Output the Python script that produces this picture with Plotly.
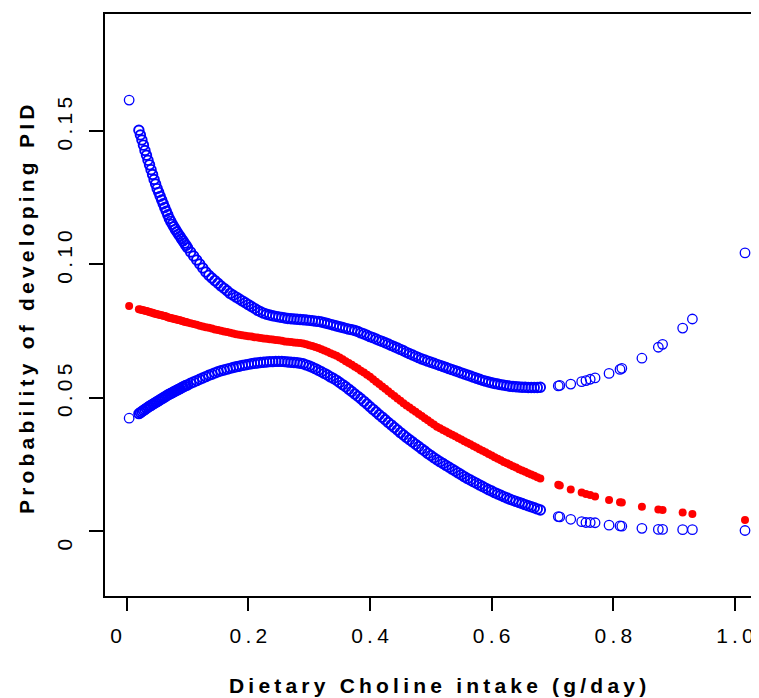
import plotly.graph_objects as go

# Dietary choline intake (g/day)
intake = [0.004,
 0.020, 0.0225, 0.025, 0.0275, 0.030, 0.0325, 0.035, 0.0375, 0.040, 0.0425,
 0.045, 0.0475, 0.050, 0.0525, 0.055, 0.0575, 0.060, 0.0625, 0.065, 0.0675,
 0.070, 0.0725, 0.075, 0.0775, 0.080, 0.0825, 0.085, 0.0875, 0.090, 0.0925,
 0.095, 0.0975, 0.100, 0.105, 0.110, 0.115,
 0.120, 0.125, 0.130, 0.135, 0.140, 0.145, 0.150, 0.155, 0.160, 0.165,
 0.170, 0.175, 0.180, 0.185, 0.190, 0.195, 0.200, 0.205, 0.210, 0.215,
 0.220, 0.225, 0.230, 0.235, 0.240, 0.245, 0.250, 0.255, 0.260, 0.265,
 0.270, 0.275, 0.280, 0.285, 0.290, 0.295, 0.300, 0.305, 0.310, 0.315,
 0.320, 0.325, 0.330, 0.335, 0.340, 0.345, 0.350, 0.355, 0.360, 0.365,
 0.370, 0.375, 0.380, 0.385, 0.390, 0.395, 0.400, 0.405, 0.410, 0.415,
 0.420, 0.425, 0.430, 0.435, 0.440, 0.445, 0.450, 0.455, 0.460, 0.465,
 0.470, 0.475, 0.480, 0.485, 0.490, 0.495, 0.500, 0.505, 0.510, 0.515,
 0.520, 0.525, 0.530, 0.535, 0.540, 0.545, 0.550, 0.555, 0.560, 0.565,
 0.570, 0.575, 0.580, 0.585, 0.590, 0.595, 0.600, 0.605, 0.610, 0.615,
 0.620, 0.625, 0.630, 0.635, 0.640, 0.645, 0.650, 0.655, 0.660, 0.665,
 0.670, 0.675, 0.680,
 0.7095, 0.712, 0.730, 0.748, 0.755, 0.762, 0.770, 0.793, 0.811, 0.814,
 0.847, 0.874, 0.881, 0.914, 0.930, 1.0165]

# Upper 95% CI
upper = [0.1616,
 0.1503, 0.1485, 0.1466, 0.1447, 0.1427, 0.1409, 0.1390, 0.1373, 0.1355, 0.1337,
 0.1318, 0.1301, 0.1284, 0.1270, 0.1255, 0.1241, 0.1227, 0.1213, 0.1199, 0.1186,
 0.1172, 0.1161, 0.1150, 0.1141, 0.1131, 0.1122, 0.1113, 0.1105, 0.1096, 0.1088,
 0.1079, 0.1071, 0.1062, 0.1046, 0.1031, 0.1016,
 0.1001, 0.0986, 0.0971, 0.0959, 0.0949, 0.0939, 0.0929, 0.0919, 0.0910, 0.0901,
 0.0891, 0.0884, 0.0877, 0.0870, 0.0863, 0.0856, 0.0849, 0.0842, 0.0835, 0.0828,
 0.0822, 0.0817, 0.0813, 0.0810, 0.0807, 0.0805, 0.0803, 0.0801, 0.0799, 0.0797,
 0.0796, 0.0795, 0.0794, 0.0793, 0.0792, 0.0791, 0.0790, 0.0789, 0.0787, 0.0786,
 0.0784, 0.0781, 0.0778, 0.0775, 0.0772, 0.0769, 0.0766, 0.0763, 0.0760, 0.0757,
 0.0755, 0.0752, 0.0748, 0.0743, 0.0739, 0.0734, 0.0729, 0.0725, 0.0720, 0.0715,
 0.0711, 0.0706, 0.0701, 0.0696, 0.0691, 0.0686, 0.0681, 0.0676, 0.0670, 0.0665,
 0.0660, 0.0655, 0.0650, 0.0645, 0.0641, 0.0637, 0.0633, 0.0629, 0.0625, 0.0621,
 0.0617, 0.0613, 0.0609, 0.0605, 0.0601, 0.0597, 0.0593, 0.0589, 0.0585, 0.0581,
 0.0577, 0.0573, 0.0569, 0.0565, 0.0562, 0.0559, 0.0556, 0.0553, 0.0551, 0.0549,
 0.0547, 0.0545, 0.0543, 0.0542, 0.0541, 0.0540, 0.0539, 0.0539, 0.0538, 0.0538,
 0.0538, 0.0538, 0.0539,
 0.0544, 0.0546, 0.0551, 0.0560, 0.0564, 0.0569, 0.0574, 0.0591, 0.0606, 0.0610,
 0.0648, 0.0689, 0.0700, 0.0761, 0.0795, 0.1043]

# Fitted probability
fitted = [0.0844,
 0.0832, 0.0831, 0.0829, 0.0828, 0.0826, 0.0825, 0.0823, 0.0821, 0.0819, 0.0818,
 0.0816, 0.0815, 0.0813, 0.0812, 0.0810, 0.0809, 0.0807, 0.0806, 0.0804, 0.0802,
 0.0800, 0.0799, 0.0797, 0.0796, 0.0794, 0.0793, 0.0791, 0.0790, 0.0788, 0.0787,
 0.0785, 0.0784, 0.0782, 0.0779, 0.0776, 0.0773,
 0.0770, 0.0767, 0.0764, 0.0762, 0.0759, 0.0756, 0.0754, 0.0751, 0.0748, 0.0746,
 0.0743, 0.0741, 0.0738, 0.0736, 0.0734, 0.0732, 0.0730, 0.0729, 0.0727, 0.0726,
 0.0724, 0.0722, 0.0721, 0.0719, 0.0718, 0.0716, 0.0715, 0.0713, 0.0711, 0.0710,
 0.0709, 0.0707, 0.0706, 0.0705, 0.0703, 0.0700, 0.0697, 0.0694, 0.0690, 0.0686,
 0.0682, 0.0677, 0.0672, 0.0667, 0.0662, 0.0657, 0.0651, 0.0644, 0.0637, 0.0630,
 0.0623, 0.0616, 0.0609, 0.0601, 0.0594, 0.0586, 0.0578, 0.0569, 0.0560, 0.0551,
 0.0542, 0.0533, 0.0524, 0.0515, 0.0506, 0.0497, 0.0488, 0.0479, 0.0471, 0.0463,
 0.0455, 0.0447, 0.0439, 0.0431, 0.0423, 0.0415, 0.0407, 0.0399, 0.0391, 0.0385,
 0.0379, 0.0373, 0.0367, 0.0361, 0.0355, 0.0349, 0.0343, 0.0337, 0.0331, 0.0325,
 0.0319, 0.0313, 0.0307, 0.0301, 0.0295, 0.0289, 0.0283, 0.0277, 0.0271, 0.0265,
 0.0259, 0.0254, 0.0248, 0.0243, 0.0238, 0.0232, 0.0227, 0.0222, 0.0217, 0.0212,
 0.0207, 0.0202, 0.0197,
 0.0173, 0.0171, 0.0156, 0.0144, 0.0139, 0.0135, 0.0129, 0.0116, 0.0108, 0.0107,
 0.0091, 0.0081, 0.0079, 0.0069, 0.0064, 0.0041]

# Lower 95% CI
lower = [0.0423,
 0.0440, 0.0444, 0.0448, 0.0452, 0.0456, 0.0460, 0.0464, 0.0468, 0.0471, 0.0475,
 0.0478, 0.0482, 0.0485, 0.0489, 0.0492, 0.0496, 0.0499, 0.0503, 0.0506, 0.0510,
 0.0513, 0.0516, 0.0519, 0.0522, 0.0525, 0.0528, 0.0531, 0.0534, 0.0537, 0.0540,
 0.0543, 0.0546, 0.0548, 0.0554, 0.0559, 0.0564,
 0.0569, 0.0574, 0.0579, 0.0584, 0.0588, 0.0593, 0.0597, 0.0601, 0.0604, 0.0607,
 0.0610, 0.0613, 0.0616, 0.0618, 0.0621, 0.0623, 0.0625, 0.0627, 0.0629, 0.0630,
 0.0632, 0.0633, 0.0634, 0.0635, 0.0635, 0.0636, 0.0636, 0.0636, 0.0635, 0.0634,
 0.0633, 0.0632, 0.0631, 0.0629, 0.0627, 0.0623, 0.0619, 0.0614, 0.0609, 0.0603,
 0.0597, 0.0591, 0.0585, 0.0578, 0.0572, 0.0565, 0.0557, 0.0549, 0.0541, 0.0532,
 0.0523, 0.0514, 0.0505, 0.0496, 0.0486, 0.0476, 0.0466, 0.0456, 0.0446, 0.0436,
 0.0427, 0.0417, 0.0407, 0.0398, 0.0388, 0.0379, 0.0369, 0.0360, 0.0351, 0.0342,
 0.0334, 0.0325, 0.0317, 0.0308, 0.0300, 0.0291, 0.0283, 0.0275, 0.0267, 0.0260,
 0.0253, 0.0246, 0.0239, 0.0232, 0.0225, 0.0218, 0.0211, 0.0204, 0.0197, 0.0191,
 0.0185, 0.0179, 0.0173, 0.0167, 0.0161, 0.0155, 0.0150, 0.0144, 0.0139, 0.0134,
 0.0129, 0.0124, 0.0119, 0.0115, 0.0111, 0.0107, 0.0103, 0.0099, 0.0095, 0.0091,
 0.0087, 0.0083, 0.0079,
 0.0054, 0.0053, 0.0044, 0.0035, 0.0032, 0.0032, 0.0031, 0.0022, 0.0019, 0.0018,
 0.0010, 0.0006, 0.0006, 0.0005, 0.0005, 0.0002]

x_tickvals = [0, 0.2, 0.4, 0.6, 0.8, 1.0]
x_ticklabels = ["0", "0.2", "0.4", "0.6", "0.8", "1.0"]
y_tickvals = [0, 0.05, 0.10, 0.15]
y_ticklabels = ["0", "0.05", "0.10", "0.15"]

SP = "\u2009"
def spaced(s):
    return SP.join(list(s))

# label placement tweaks (the "0" labels sit off-centre in the original)
x_ticktext = [spaced(t) for t in x_ticklabels]
x_ticktext[0] = x_ticktext[0] + SP * 5
y_ticktext = [SP * 2 + spaced(t) for t in y_ticklabels]
y_ticktext[0] = spaced(y_ticklabels[0]) + SP * 8

FONT = "Liberation Sans, Arial, sans-serif"
BLUE = "#0000FF"
RED = "#FF0000"

# ring thickness: dense part drawn slightly thicker to render as a solid band
ring_w = [1.3 if (v < 0.01 or v > 0.69) else 1.9 for v in intake]

fig = go.Figure()
fig.add_trace(go.Scatter(x=intake, y=fitted, mode="markers",
                         marker=dict(symbol="circle", size=8, color=RED,
                                     line=dict(width=0)),
                         showlegend=False, hoverinfo="skip"))
fig.add_trace(go.Scatter(x=intake, y=upper, mode="markers",
                         marker=dict(symbol="circle-open", size=9.5, color=BLUE,
                                     line=dict(width=ring_w, color=BLUE)),
                         showlegend=False, hoverinfo="skip"))
fig.add_trace(go.Scatter(x=intake, y=lower, mode="markers",
                         marker=dict(symbol="circle-open", size=9.5, color=BLUE,
                                     line=dict(width=ring_w, color=BLUE)),
                         showlegend=False, hoverinfo="skip"))

# page has an 8px body margin: figure is sized to fill the window
fig.update_layout(
    width=751, height=690,
    margin=dict(l=97, r=0, t=6, b=102),
    paper_bgcolor="white", plot_bgcolor="white",
    font=dict(family=FONT, size=21, color="black"),
    xaxis=dict(range=[-0.0357, 1.0395], showgrid=False, zeroline=False,
               showline=True, linecolor="black", linewidth=1.5, mirror=True,
               ticks="outside", ticklen=13, tickwidth=1.5, tickcolor="black",
               tickvals=x_tickvals, ticktext=x_ticktext,
               tickfont=dict(size=21), ticklabelstandoff=7),
    yaxis=dict(range=[-0.02437, 0.19387], showgrid=False, zeroline=False,
               showline=True, linecolor="black", linewidth=1.5,
               ticks="outside", ticklen=14, tickwidth=1.5, tickcolor="black",
               tickvals=y_tickvals, ticktext=y_ticktext,
               tickangle=-90, tickfont=dict(size=21), ticklabelstandoff=9),
    annotations=[
        dict(text="<b>" + spaced("Dietary Choline intake (g/day)") + "</b>",
             xref="paper", yref="paper", x=0.509, y=-0.153,
             xanchor="center", yanchor="middle", showarrow=False,
             font=dict(size=21, family=FONT)),
        dict(text="<b>" + spaced("Probability of developing PID") + "</b>",
             xref="paper", yref="paper", x=-0.1208, y=0.493,
             xanchor="center", yanchor="middle", showarrow=False, textangle=-90,
             font=dict(size=21, family=FONT)),
    ],
)

fig.write_html("out.html")
